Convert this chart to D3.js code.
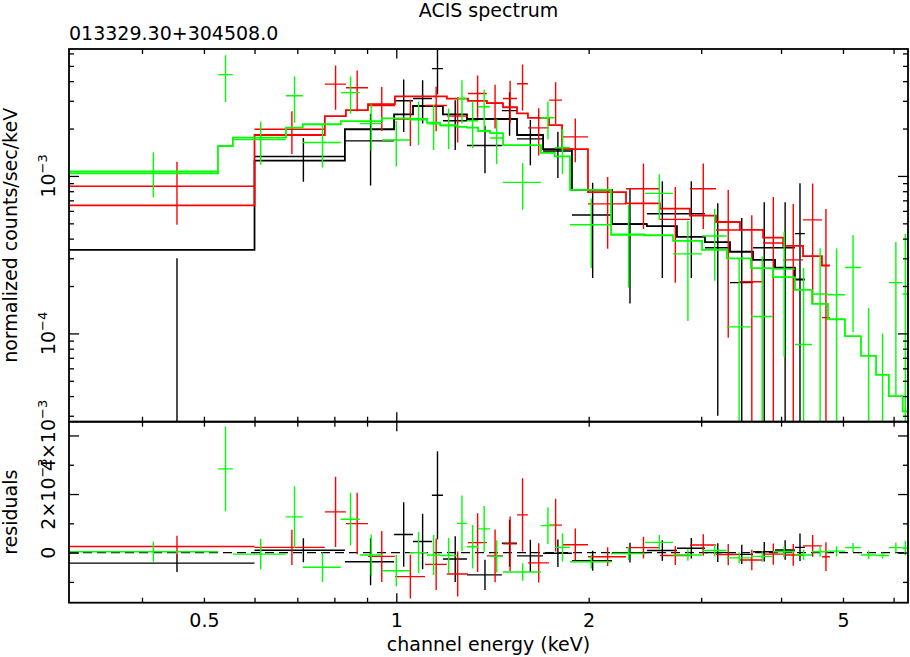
<!DOCTYPE html>
<html>
<head>
<meta charset="utf-8">
<script src="https://cdn.jsdelivr.net/npm/d3@7"></script>
<style>
  body { margin: 0; background: #fff; }
  svg { display: block; }
</style>
</head>
<body>
<script>
// ACIS spectrum, three data groups with folded model + residuals

// black group (bin edges in keV, rates in counts/sec/keV)
let blackEdges = [0.3075, 0.6, 0.831, 0.992, 1.062, 1.137, 1.183, 1.29, 1.463, 1.545, 1.697, 1.883, 2.175, 2.467, 2.749, 3.041, 3.328, 3.616, 3.914, 4.205, 4.36];
let blackRate = [0, 1.33e-3, 1.67e-3, 3.0e-3, 3.1e-3, 4.8e-3, 2.24e-3, 1.56e-3, 2.6e-3, 1.72e-3, 1.44e-3, 5.65e-4, 4.95e-4, 5.75e-4, 5.75e-4, 3.5e-4, 2.1e-4, 3.5e-4, 3.5e-4, 4.3e-4];
let blackErr = [3.0e-4, 4.1e-4, 8.0e-4, 1.1e-3, 9.5e-4, 1.5e-3, 7.8e-4, 5.2e-4, 8.0e-4, 5.5e-4, 4.7e-4, 3.4e-4, 3.4e-4, 3.5e-4, 3.5e-4, 3.2e-4, 3.3e-4, 3.3e-4, 3.3e-4, 4.7e-4];
let blackModel = [3.39e-4, 1.25e-3, 1.98e-3, 2.46e-3, 2.78e-3, 2.78e-3, 2.46e-3, 2.3e-3, 2.3e-3, 1.82e-3, 1.48e-3, 8.15e-4, 4.95e-4, 4.8e-4, 4.1e-4, 3.8e-4, 3.3e-4, 2.93e-4, 2.62e-4, 2.2e-4];
let blackResid = [-0.36e-3, 0.08e-3, -0.31e-3, 0.62e-3, 0.38e-3, 1.96e-3, -0.22e-3, -0.76e-3, 0.32e-3, -0.11e-3, -0.02e-3, -0.28e-3, 0.0, 0.07e-3, 0.15e-3, 0.0, -0.06e-3, 0.03e-3, 0.09e-3, 0.18e-3];

// red group
let redEdges = [0.3075, 0.6, 0.773, 0.834, 0.903, 0.995, 1.109, 1.2, 1.295, 1.386, 1.469, 1.545, 1.607, 1.734, 1.817, 1.995, 2.288, 2.585, 2.881, 3.164, 3.45, 3.75, 4.03, 4.33, 4.635, 4.77];
let redRate = [8.6e-4, 1.98e-3, 3.83e-3, 3.63e-3, 2.8e-3, 2.3e-3, 2.8e-3, 2.4e-3, 3.34e-3, 2.9e-3, 3.1e-3, 3.85e-3, 2.02e-3, 3.03e-3, 1.77e-3, 6.65e-4, 8.3e-4, 5.3e-4, 8.3e-4, 4.54e-4, 2.13e-4, 3.75e-4, 2.93e-4, 5.26e-4, 1.26e-4];
let redErr = [3.7e-4, 6.0e-4, 1.2e-3, 1.05e-3, 8.7e-4, 7.5e-4, 8.8e-4, 7.7e-4, 1.0e-3, 9.0e-4, 9.3e-4, 1.25e-3, 6.7e-4, 9.0e-4, 5.5e-4, 3.2e-4, 3.7e-4, 3.2e-4, 3.7e-4, 3.6e-4, 3.5e-4, 3.6e-4, 3.7e-4, 3.7e-4, 4.9e-4];
let redModel = [6.5e-4, 1.82e-3, 2.4e-3, 2.62e-3, 2.86e-3, 3.2e-3, 3.2e-3, 3.1e-3, 3.0e-3, 2.9e-3, 2.73e-3, 2.5e-3, 2.34e-3, 2.1e-3, 1.48e-3, 7.9e-4, 6.7e-4, 6.2e-4, 5.6e-4, 5.1e-4, 4.54e-4, 4.06e-4, 3.6e-4, 3.1e-4, 2.7e-4];
let redResid = [0.21e-3, 0.18e-3, 1.39e-3, 0.99e-3, -0.13e-3, -0.82e-3, -0.4e-3, -0.73e-3, 0.34e-3, -0.11e-3, 0.3e-3, 1.29e-3, -0.35e-3, 0.94e-3, 0.27e-3, -0.14e-3, 0.17e-3, -0.1e-3, 0.26e-3, -0.07e-3, -0.25e-3, -0.05e-3, -0.08e-3, 0.23e-3, -0.14e-3];

// green group
let greenEdges = [0.3075, 0.526, 0.555, 0.672, 0.714, 0.819, 0.877, 0.95, 1.05, 1.117, 1.171, 1.244, 1.29, 1.343, 1.402, 1.469, 1.684, 1.77, 1.87, 2.168, 2.45, 2.71, 3.009, 3.29, 3.589, 3.885, 4.205, 4.472, 4.737, 5.036, 5.335, 5.633, 5.9, 6.2, 6.32];
let greenRate = [1.07e-3, 4.4e-3, 1.7e-3, 3.23e-3, 1.63e-3, 3.38e-3, 2.15e-3, 1.69e-3, 2.27e-3, 2.14e-3, 2.08e-3, 3.1e-3, 2.24e-3, 2.75e-3, 1.74e-3, 9.1e-4, 2.34e-3, 1.51e-3, 4.9e-4, 4.26e-4, 7.75e-4, 3.2e-4, 4.16e-4, 1.1e-4, 1.28e-4, 2.56e-4, 8.5e-5, 1.78e-4, 1.76e-4, 2.62e-4, 0, 0, 2.1e-4, 1.78e-4];
let greenErr = [3.4e-4, 1.45e-3, 5.2e-4, 1.05e-3, 5.0e-4, 9.0e-4, 7.0e-4, 5.4e-4, 7.0e-4, 6.8e-4, 6.0e-4, 9.5e-4, 7.4e-4, 7.8e-4, 5.5e-4, 3.0e-4, 6.3e-4, 4.8e-4, 2.3e-4, 2.3e-4, 2.5e-4, 2.0e-4, 2.0e-4, 1.9e-4, 1.8e-4, 1.85e-4, 1.75e-4, 1.7e-4, 1.7e-4, 1.6e-4, 1.45e-4, 1.0e-4, 1.7e-4, 2.5e-4];
let greenModel = [1.04e-3, 1.55e-3, 1.75e-3, 2.03e-3, 2.13e-3, 2.23e-3, 2.23e-3, 2.32e-3, 2.3e-3, 2.18e-3, 2.1e-3, 2.05e-3, 2.03e-3, 1.93e-3, 1.87e-3, 1.57e-3, 1.4e-3, 1.33e-3, 8.15e-4, 4.23e-4, 4.2e-4, 3.87e-4, 3.39e-4, 3.0e-4, 2.6e-4, 2.28e-4, 1.89e-4, 1.54e-4, 1.23e-4, 9.6e-5, 7.2e-5, 5.45e-5, 4.0e-5, 3.2e-5];
let greenResid = [0.03e-3, 2.86e-3, -0.05e-3, 1.22e-3, -0.5e-3, 1.14e-3, -0.08e-3, -0.62e-3, 0.0, -0.08e-3, -0.1e-3, 1.0e-3, 0.2e-3, 0.81e-3, -0.13e-3, -0.66e-3, 0.92e-3, 0.18e-3, -0.31e-3, -0.03e-3, 0.35e-3, -0.08e-3, 0.07e-3, -0.18e-3, -0.13e-3, 0.03e-3, -0.08e-3, 0.03e-3, 0.05e-3, 0.17e-3, -0.08e-3, -0.1e-3, 0.17e-3, 0.15e-3];

// ticks and labels
let xTickVals = [0.4, 0.5, 0.6, 0.7, 0.8, 0.9, 1, 2, 3, 4, 5, 6];
let xMajor = [1];
let xLabelVals = [0.5, 1, 2, 5];
let yTopTickVals = [3e-5, 4e-5, 5e-5, 6e-5, 7e-5, 8e-5, 9e-5, 1e-4, 2e-4, 3e-4, 4e-4, 5e-4, 6e-4, 7e-4, 8e-4, 9e-4, 1e-3, 2e-3, 3e-3, 4e-3, 5e-3, 6e-3];
let yTopMajor = [1e-4, 1e-3];
let yTopLabelVals = [1e-4, 1e-3];
let yTopLabelBase = ['10', '10'];
let yTopLabelExp = ['\u22124', '\u22123'];
let yResTickVals = [-1e-3, 0, 1e-3, 2e-3, 3e-3, 4e-3];
let yResMajor = [0, 2e-3, 4e-3];
let yResLabelVals = [0, 2e-3, 4e-3];
let yResLabelBase = ['0', '2\u00d710', '4\u00d710'];
let yResLabelExp = ['', '\u22123', '\u22123'];

let w = 910;
let h = 657;
let xL = 69, xR = 908, yT = 49, yM = 421.7, yB = 602.7;
let font = 'DejaVu Sans, Verdana, sans-serif';

let svg = d3.select('body').append('svg')
    .attr('width', w)
    .attr('height', h)
    .style('font-family', font)
    .style('font-size', '19px');

let x = d3.scaleLog().domain([0.3075, 6.32]).range([xL, xR]);
let yTop = d3.scaleLog().domain([2.75e-5, 6.4e-3]).range([yM, yT]);
let yRes = d3.scaleLinear().domain([-1.71e-3, 4.47e-3]).range([yB, yM]);

function makeRows(edges, rate, err, model, resid) {
    return rate.map((r, i) => ({
        lo: edges[i],
        hi: edges[i + 1],
        mid: (edges[i] + edges[i + 1]) / 2,
        rate: r,
        err: err[i],
        model: model[i],
        resid: resid[i]
    }));
}

let groups = [
    { color: '#000000', rows: makeRows(blackEdges, blackRate, blackErr, blackModel, blackResid) },
    { color: '#ff0000', rows: makeRows(redEdges, redRate, redErr, redModel, redResid) },
    { color: '#00ff00', rows: makeRows(greenEdges, greenRate, greenErr, greenModel, greenResid) }
];

let defs = svg.append('defs');
defs.append('clipPath').attr('id', 'clipTop').append('rect')
    .attr('x', xL).attr('y', yT).attr('width', xR - xL).attr('height', yM - yT);
defs.append('clipPath').attr('id', 'clipRes').append('rect')
    .attr('x', xL).attr('y', yM).attr('width', xR - xL).attr('height', yB - yM);

// zero line in residual panel
svg.append('line')
    .attr('x1', xL).attr('x2', xR)
    .attr('y1', yRes(0)).attr('y2', yRes(0))
    .attr('stroke', '#000')
    .attr('stroke-width', 1.4)
    .attr('stroke-dasharray', '9,5');

let step = d3.line().x(p => x(p[0])).y(p => yTop(p[1]));

groups.forEach(gr => {
    let gt = svg.append('g')
        .attr('clip-path', 'url(#clipTop)')
        .attr('stroke', gr.color)
        .attr('fill', 'none');

    // data crosses
    gt.selectAll('line.h')
        .data(gr.rows.filter(d => d.rate > 0))
        .enter()
        .append('line')
        .attr('class', 'h')
        .attr('x1', d => x(d.lo))
        .attr('x2', d => x(d.hi))
        .attr('y1', d => yTop(d.rate))
        .attr('y2', d => yTop(d.rate))
        .attr('stroke-width', 1.4);

    gt.selectAll('line.v')
        .data(gr.rows)
        .enter()
        .append('line')
        .attr('class', 'v')
        .attr('x1', d => x(d.mid))
        .attr('x2', d => x(d.mid))
        .attr('y1', d => yTop(d.rate + d.err))
        .attr('y2', d => d.rate - d.err > 0 ? yTop(d.rate - d.err) : yM + 5)
        .attr('stroke-width', 1.4);

    // folded model as a histogram
    let pts = [];
    gr.rows.forEach(d => {
        pts.push([d.lo, d.model]);
        pts.push([d.hi, d.model]);
    });
    gt.append('path')
        .datum(pts)
        .attr('d', step)
        .attr('stroke-width', 1.8);

    // residuals
    let gr2 = svg.append('g')
        .attr('clip-path', 'url(#clipRes)')
        .attr('stroke', gr.color)
        .attr('stroke-width', 1.4);

    gr2.selectAll('line.h')
        .data(gr.rows)
        .enter()
        .append('line')
        .attr('class', 'h')
        .attr('x1', d => x(d.lo))
        .attr('x2', d => x(d.hi))
        .attr('y1', d => yRes(d.resid))
        .attr('y2', d => yRes(d.resid));

    gr2.selectAll('line.v')
        .data(gr.rows)
        .enter()
        .append('line')
        .attr('class', 'v')
        .attr('x1', d => x(d.mid))
        .attr('x2', d => x(d.mid))
        .attr('y1', d => yRes(d.resid + d.err))
        .attr('y2', d => yRes(d.resid - d.err));
});

// frames
[[yT, yM], [yM, yB]].forEach(p => {
    svg.append('rect')
        .attr('x', xL).attr('y', p[0])
        .attr('width', xR - xL).attr('height', p[1] - p[0])
        .attr('fill', 'none')
        .attr('stroke', '#000')
        .attr('stroke-width', 1.8);
});

// inward ticks
function xTicks(yPos, dir) {
    let ax = (dir > 0 ? d3.axisBottom(x) : d3.axisTop(x))
        .tickValues(xTickVals)
        .tickFormat('')
        .tickSizeOuter(0);
    let g = svg.append('g').attr('transform', `translate(0,${yPos})`).call(ax);
    g.select('.domain').remove();
    g.selectAll('.tick line')
        .attr('y2', d => dir * (xMajor.includes(d) ? 9.5 : 5))
        .attr('stroke-width', 1.3);
}

function yTicks(scale, vals, majors, xPos, dir) {
    let ax = (dir > 0 ? d3.axisRight(scale) : d3.axisLeft(scale))
        .tickValues(vals)
        .tickFormat('')
        .tickSizeOuter(0);
    let g = svg.append('g').attr('transform', `translate(${xPos},0)`).call(ax);
    g.select('.domain').remove();
    g.selectAll('.tick line')
        .attr('x2', d => dir * (majors.includes(d) ? 10 : 5))
        .attr('stroke-width', 1.3);
}

xTicks(yT, 1);
xTicks(yM, -1);
xTicks(yM, 1);
xTicks(yB, -1);
yTicks(yTop, yTopTickVals, yTopMajor, xL, 1);
yTicks(yTop, yTopTickVals, yTopMajor, xR, -1);
yTicks(yRes, yResTickVals, yResMajor, xL, 1);
yTicks(yRes, yResTickVals, yResMajor, xR, -1);

// x tick labels
let xl = svg.append('g')
    .attr('transform', `translate(0,${yB})`)
    .call(d3.axisBottom(x).tickValues(xLabelVals).tickFormat(d3.format('')).tickSize(0).tickPadding(10.5));
xl.select('.domain').remove();
xl.selectAll('text')
    .style('font-family', font)
    .style('font-size', '19px')
    .attr('fill', '#000');

// rotated y tick labels with superscripts
function yLabels(scale, vals, base, exp) {
    vals.forEach((v, i) => {
        let t = svg.append('text')
            .attr('transform', `translate(55,${scale(v)}) rotate(-90)`)
            .attr('text-anchor', 'middle');
        t.append('tspan').text(base[i]);
        if (exp[i]) {
            t.append('tspan')
                .attr('dy', -8)
                .style('font-size', '13px')
                .text(exp[i]);
        }
    });
}
yLabels(yTop, yTopLabelVals, yTopLabelBase, yTopLabelExp);
yLabels(yRes, yResLabelVals, yResLabelBase, yResLabelExp);

// titles
svg.append('text')
    .attr('x', (xL + xR) / 2)
    .attr('y', 17)
    .attr('text-anchor', 'middle')
    .text('ACIS spectrum');

svg.append('text')
    .attr('x', xL)
    .attr('y', 39.5)
    .text('013329.30+304508.0');

svg.append('text')
    .attr('x', (xL + xR) / 2)
    .attr('y', 651)
    .attr('text-anchor', 'middle')
    .text('channel energy (keV)');

svg.append('text')
    .attr('transform', `translate(17,${(yT + yM) / 2}) rotate(-90)`)
    .attr('text-anchor', 'middle')
    .text('normalized counts/sec/keV');

svg.append('text')
    .attr('transform', `translate(17,${(yM + yB) / 2}) rotate(-90)`)
    .attr('text-anchor', 'middle')
    .text('residuals');
</script>
</body>
</html>
